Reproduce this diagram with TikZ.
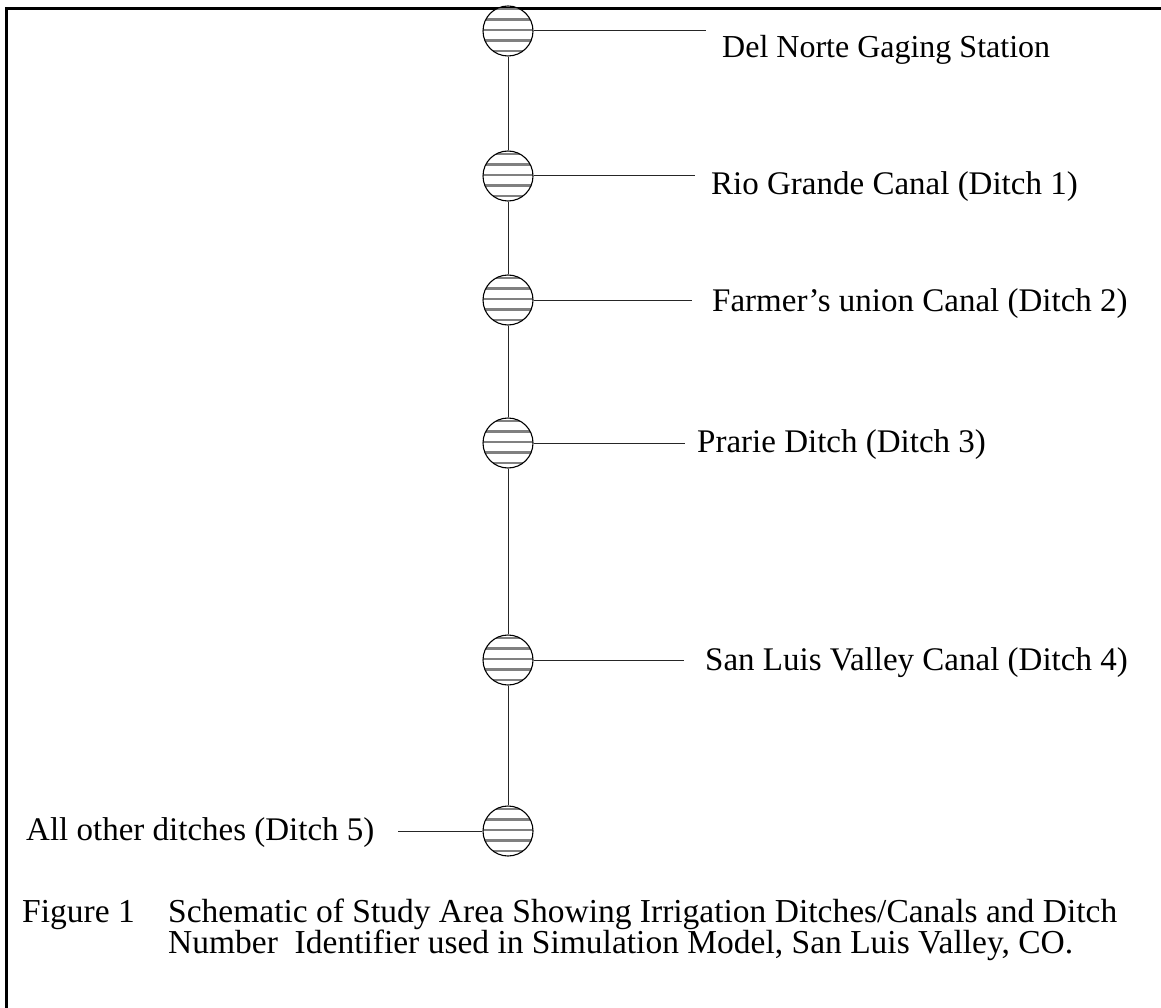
\documentclass[tikz,border=0pt]{standalone}
\usepackage{fontspec}
\setmainfont{Liberation Serif}
\begin{document}
\begin{tikzpicture}[x=1pt,y=-1pt,
  station/.style={circle,draw=black,line width=1.1pt,minimum size=50pt,inner sep=0pt,
    path picture={\foreach \d in {22,11.5,1,-9.5,-20}{
      \draw[line width=2.8pt,color=stripegray]
        ([yshift=\d pt]path picture bounding box.west) -- ([yshift=\d pt]path picture bounding box.east);}}},
  lab/.style={anchor=base west,inner sep=0pt,font=\fontsize{33}{38}\selectfont},
  conn/.style={line width=1pt,color=black!85},
  frame/.style={line width=3pt,black}]
\definecolor{stripegray}{RGB}{128,128,128}
\useasboundingbox (0,0) rectangle (1161,1008);
\draw[frame] (1161,8.5) -- (6.5,8.5) -- (6.5,1008);
% stations
\node[station] (c1) at (508,31) {};
\node[station] (c2) at (508,176) {};
\node[station] (c3) at (508,300) {};
\node[station] (c4) at (508,443) {};
\node[station] (c5) at (508,660) {};
\node[station] (c6) at (508,831) {};
\draw[conn] (c1) -- (c2);
\draw[conn] (c2) -- (c3);
\draw[conn] (c3) -- (c4);
\draw[conn] (c4) -- (c5);
\draw[conn] (c5) -- (c6);
% labels
\node[lab,font=\fontsize{32}{38}\selectfont] (t1) at (722,58) {Del Norte Gaging Station};
\node[lab] (t2) at (711,195) {Rio Grande Canal (Ditch 1)};
\node[lab] (t3) at (712,311) {Farmer’s union Canal (Ditch 2)};
\node[lab] (t4) at (697,452) {Prarie Ditch (Ditch 3)};
\node[lab] (t5) at (705,670) {San Luis Valley Canal (Ditch 4)};
\node[lab] (t6) at (26,840) {All other ditches (Ditch 5)};
\coordinate (e1) at (706,31);
\coordinate (e2) at (695,176);
\coordinate (e3) at (692,300);
\coordinate (e4) at (685,443);
\coordinate (e5) at (684,660);
\coordinate (e6) at (398,831);
\draw[conn] (c1.east) -- (e1);
\draw[conn] (c2.east) -- (e2);
\draw[conn] (c3.east) -- (e3);
\draw[conn] (c4.east) -- (e4);
\draw[conn] (c5.east) -- (e5);
\draw[conn] (e6) -- (c6.west);
% caption
\node[lab,font=\fontsize{33.5}{38}\selectfont] (cap1) at (22,922) {Figure 1};
\node[lab,font=\fontsize{33.5}{38}\selectfont] (cap2) at (168,922) {Schematic of Study Area Showing Irrigation Ditches/Canals and Ditch};
\node[lab,font=\fontsize{33.5}{38}\selectfont] (cap3) at (168,953) {Number\ \ Identifier used in Simulation Model, San Luis Valley, CO.};
\end{tikzpicture}
\end{document}
